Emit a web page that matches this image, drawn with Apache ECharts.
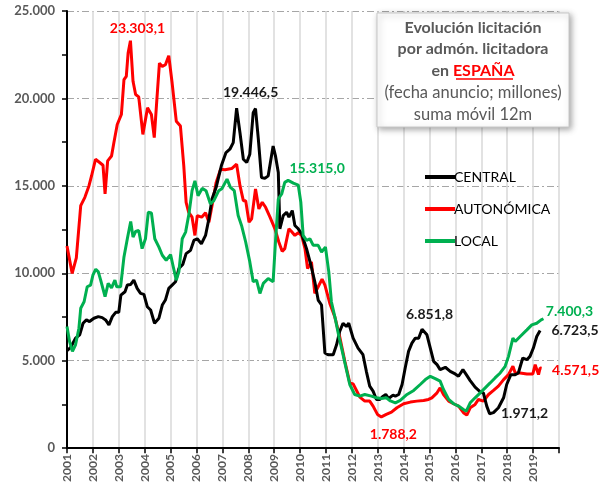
<!DOCTYPE html>
<html>
<head>
<meta charset="utf-8">
<script src="https://cdn.jsdelivr.net/npm/echarts@6/dist/echarts.min.js"></script>
<style>
  html, body { margin: 0; padding: 0; background: #fff; }
  #main { width: 604px; height: 485px; }
</style>
</head>
<body>
<div id="main"></div>
<script>
// años del eje
var years = [2001, 2002, 2003, 2004, 2005, 2006, 2007, 2008, 2009, 2010,
    2011, 2012, 2013, 2014, 2015, 2016, 2017, 2018, 2019];

// [fecha (año decimal), millones]
var central = [
    [2001.0, 5570], [2001.14, 5760], [2001.33, 6290], [2001.49, 6480], [2001.62, 7145], [2001.75, 7335],
    [2001.87, 7240], [2002.04, 7430], [2002.21, 7520], [2002.36, 7465], [2002.49, 7335], [2002.62, 7050],
    [2002.75, 7520], [2002.88, 7770], [2003.0, 7770], [2003.08, 8755], [2003.24, 8945], [2003.33, 9325],
    [2003.46, 9360], [2003.58, 9610], [2003.71, 9135], [2003.84, 8850], [2003.97, 8795], [2004.1, 8090],
    [2004.23, 7900], [2004.38, 7145], [2004.55, 7430], [2004.68, 8185], [2004.8, 8470], [2004.93, 9135],
    [2005.06, 9325], [2005.19, 9515], [2005.32, 10270], [2005.47, 10500], [2005.6, 11125], [2005.77, 11310],
    [2005.9, 11880], [2006.03, 11975], [2006.19, 11690], [2006.35, 12165], [2006.48, 13115], [2006.6, 14250],
    [2006.76, 14915], [2006.96, 16145], [2007.14, 16905], [2007.29, 17095], [2007.42, 17470], [2007.55, 19446.5],
    [2007.68, 18040], [2007.81, 16525], [2007.94, 16335], [2008.06, 16810], [2008.19, 19180], [2008.28, 19420],
    [2008.39, 17660], [2008.51, 15480], [2008.64, 15425], [2008.77, 15575], [2008.96, 17280], [2009.05, 16715],
    [2009.16, 15765], [2009.22, 12545], [2009.35, 13300], [2009.48, 13490], [2009.57, 13210], [2009.7, 13585],
    [2009.8, 12735], [2009.93, 12545], [2010.06, 12260], [2010.25, 11410], [2010.42, 10460], [2010.57, 9515],
    [2010.7, 8470], [2010.83, 8185], [2010.96, 5440], [2011.08, 5345], [2011.28, 5345], [2011.41, 5910],
    [2011.53, 6670], [2011.66, 7145], [2011.79, 6955], [2011.88, 7145], [2012.05, 6290], [2012.24, 5725],
    [2012.43, 5345], [2012.56, 4395], [2012.69, 3545], [2012.82, 3260], [2012.95, 2785], [2013.08, 2785],
    [2013.21, 2975], [2013.31, 3070], [2013.42, 2840], [2013.59, 3030], [2013.68, 2975], [2013.81, 3070],
    [2013.94, 3640], [2014.06, 4585], [2014.19, 5535], [2014.32, 6005], [2014.45, 6290], [2014.58, 6290],
    [2014.71, 6800], [2014.77, 6851.8], [2014.9, 6480], [2015.03, 5725], [2015.16, 4965], [2015.29, 4775],
    [2015.41, 4490], [2015.61, 4625], [2015.8, 4395], [2015.99, 4245], [2016.12, 4110], [2016.29, 4490],
    [2016.42, 4205], [2016.57, 3865], [2016.76, 3485], [2016.96, 3220], [2017.08, 3165], [2017.21, 2405],
    [2017.32, 1971.2], [2017.47, 2030], [2017.66, 2310], [2017.86, 2880], [2017.98, 3640], [2018.14, 4205],
    [2018.31, 4205], [2018.43, 4300], [2018.6, 5155], [2018.76, 5060], [2018.88, 5250], [2019.01, 5725],
    [2019.14, 6385], [2019.27, 6723.5]
];

var autonomica = [
    [2001.0, 11560], [2001.2, 9990], [2001.36, 10880], [2001.53, 13870], [2001.69, 14345], [2001.85, 15010],
    [2001.95, 15580], [2002.1, 16520], [2002.26, 16335], [2002.39, 16180], [2002.47, 14535], [2002.57, 16430],
    [2002.72, 16710], [2002.81, 17470], [2002.94, 18510], [2003.1, 19080], [2003.2, 21070], [2003.29, 21260],
    [2003.36, 22590], [2003.45, 23303.1], [2003.55, 20980], [2003.65, 20220], [2003.77, 20090], [2003.93, 17945],
    [2004.0, 17945], [2004.11, 19460], [2004.26, 19080], [2004.37, 17760], [2004.47, 19935], [2004.57, 22020],
    [2004.68, 21830], [2004.8, 21925], [2004.93, 22440], [2005.06, 20880], [2005.22, 18700], [2005.38, 18420],
    [2005.51, 16145], [2005.6, 14060], [2005.7, 13490], [2005.83, 13210], [2005.94, 12165], [2006.03, 13300],
    [2006.2, 13210], [2006.35, 13455], [2006.48, 12925], [2006.6, 13870], [2006.76, 15200], [2006.93, 15955],
    [2007.1, 15920], [2007.36, 15990], [2007.55, 16240], [2007.68, 15010], [2007.81, 14155], [2007.9, 14155],
    [2008.03, 12925], [2008.13, 13115], [2008.28, 14820], [2008.41, 13680], [2008.54, 14060], [2008.67, 13775],
    [2008.84, 13210], [2009.03, 12545], [2009.18, 11790], [2009.31, 11255], [2009.41, 11410], [2009.57, 12545],
    [2009.67, 12390], [2009.8, 12165], [2009.93, 12320], [2010.06, 12165], [2010.19, 11410], [2010.29, 10270],
    [2010.44, 10650], [2010.57, 8850], [2010.7, 9230], [2010.85, 9665], [2010.96, 9320], [2011.15, 8280],
    [2011.34, 7520], [2011.53, 6385], [2011.73, 4965], [2011.92, 3730], [2012.05, 3675], [2012.18, 3300],
    [2012.31, 2920], [2012.5, 2690], [2012.69, 2690], [2012.82, 2405], [2012.99, 1930], [2013.14, 1788.2],
    [2013.33, 1930], [2013.53, 2060], [2013.74, 2310], [2014.0, 2540], [2014.26, 2635], [2014.51, 2690],
    [2014.77, 2730], [2014.96, 2785], [2015.09, 2880], [2015.29, 3165], [2015.41, 3450], [2015.54, 3070],
    [2015.74, 2690], [2015.93, 2540], [2016.12, 2405], [2016.31, 2030], [2016.44, 1895], [2016.57, 2310],
    [2016.76, 2500], [2016.89, 2785], [2017.08, 2690], [2017.28, 3070], [2017.47, 3300], [2017.66, 3545],
    [2017.86, 3920], [2018.05, 4205], [2018.22, 4680], [2018.31, 4300], [2018.5, 4300], [2018.76, 4245],
    [2018.99, 4245], [2019.08, 4775], [2019.14, 4815], [2019.21, 4205], [2019.27, 4585], [2019.33, 4571.5]
];

var local = [
    [2001.0, 6955], [2001.1, 6100], [2001.21, 5535], [2001.33, 5910], [2001.46, 6860], [2001.53, 8000],
    [2001.66, 8375], [2001.78, 9230], [2001.91, 9325], [2002.0, 9890], [2002.11, 10235], [2002.21, 10080],
    [2002.3, 9610], [2002.36, 9550], [2002.47, 8660], [2002.59, 9420], [2002.72, 9170], [2002.85, 9610],
    [2002.92, 9230], [2003.07, 9230], [2003.2, 10935], [2003.33, 11975], [2003.46, 12960], [2003.55, 12070],
    [2003.65, 12390], [2003.77, 12450], [2003.9, 11410], [2004.03, 11975], [2004.14, 13490], [2004.26, 13455],
    [2004.39, 11975], [2004.55, 11500], [2004.68, 11030], [2004.83, 10745], [2005.0, 11065], [2005.09, 10460],
    [2005.22, 9610], [2005.32, 10080], [2005.45, 11975], [2005.58, 12355], [2005.71, 13400], [2005.83, 14725],
    [2005.94, 15290], [2006.06, 14440], [2006.22, 14855], [2006.37, 14725], [2006.54, 13965], [2006.67, 14155],
    [2006.86, 14725], [2006.99, 14855], [2007.18, 15385], [2007.31, 14915], [2007.46, 14725], [2007.61, 13300],
    [2007.74, 12735], [2007.9, 11790], [2008.06, 10650], [2008.19, 9515], [2008.32, 9610], [2008.45, 8850],
    [2008.58, 9420], [2008.77, 9700], [2008.96, 9515], [2009.05, 11790], [2009.16, 14250], [2009.29, 14535],
    [2009.41, 15200], [2009.54, 15315.0], [2009.74, 15160], [2009.93, 15045], [2010.03, 14060], [2010.12, 12165],
    [2010.25, 11880], [2010.38, 11975], [2010.51, 11600], [2010.7, 11600], [2010.83, 11220], [2010.98, 11500],
    [2011.11, 10080], [2011.21, 8375], [2011.37, 7335], [2011.5, 6385], [2011.66, 5345], [2011.79, 4490],
    [2011.92, 3640], [2012.11, 3070], [2012.31, 2975], [2012.5, 3070], [2012.76, 2975], [2012.95, 2880],
    [2013.14, 2840], [2013.33, 2880], [2013.49, 2700], [2013.68, 2595], [2013.87, 2730], [2014.13, 3070],
    [2014.39, 3300], [2014.64, 3640], [2014.84, 3920], [2015.03, 4110], [2015.22, 3980], [2015.41, 3830],
    [2015.54, 3355], [2015.74, 2785], [2015.93, 2540], [2016.12, 2405], [2016.31, 2215], [2016.42, 2120],
    [2016.57, 2595], [2016.76, 2880], [2016.96, 3165], [2017.15, 3450], [2017.34, 3730], [2017.53, 4015],
    [2017.73, 4300], [2017.92, 4680], [2018.05, 5250], [2018.22, 6290], [2018.31, 6100], [2018.5, 6385],
    [2018.76, 6765], [2018.95, 7050], [2019.14, 7145], [2019.31, 7335], [2019.4, 7400.3]
];

var colCentral = '#000000';
var colAuto = '#ff0000';
var colLocal = '#00b050';
var gris = '#595959';
var fuente = 'Lato, "Liberation Sans", sans-serif';

// formato español: 23.303,1
function fmtEs(v, dec) {
    var s = v.toFixed(dec);
    var p = s.split('.');
    var ent = p[0].replace(/\B(?=(\d{3})+(?!\d))/g, '.');
    return p.length > 1 ? ent + ',' + p[1] : ent;
}

// etiquetas de máximos / mínimos / últimos
function marca(serie, valor, dx, dy) {
    var punto = serie.filter(function(p) { return p[1] === valor; })[0];
    return {
        coord: punto,
        value: fmtEs(punto[1], 1),
        label: { offset: [dx, dy] }
    };
}

function markPts(items, color) {
    return {
        symbol: 'circle',
        symbolSize: 0,
        silent: true,
        label: {
            show: true,
            position: 'inside',
            color: color,
            fontFamily: fuente,
            fontWeight: 'bold',
            fontSize: 14,
            formatter: function(p) { return p.value; }
        },
        data: items
    };
}

var myChart = echarts.init(document.getElementById('main'), null, { renderer: 'canvas' });

var option = {
    animation: false,
    backgroundColor: '#ffffff',
    grid: { left: 67, right: 45, top: 11, bottom: 34, containLabel: false },
    legend: {
        orient: 'vertical',
        left: 420,
        top: 165,
        icon: 'rect',
        itemWidth: 30,
        itemHeight: 4,
        itemGap: 18,
        data: ['CENTRAL', 'AUTONÓMICA', 'LOCAL'],
        textStyle: { color: '#000', fontFamily: fuente, fontSize: 14, padding: [0, 0, 0, -6] }
    },
    xAxis: {
        type: 'value',
        min: 2001,
        max: 2020,
        interval: 1,
        axisLine: { onZero: false, lineStyle: { color: '#000', width: 2 } },
        axisTick: { show: true, length: 5, lineStyle: { color: '#000', width: 1.5 } },
        axisLabel: {
            rotate: 90,
            color: gris,
            fontFamily: fuente,
            fontWeight: 'bold',
            fontSize: 12,
            margin: 6,
            formatter: function(v) { return v < 2020 ? String(v) : ''; }
        },
        splitLine: { show: true, lineStyle: { color: '#d9d9d9', width: 1.5 } }
    },
    yAxis: [{
        type: 'value',
        min: 0,
        max: 25000,
        interval: 2500,
        axisLine: { show: true, lineStyle: { color: '#000', width: 2 } },
        axisTick: { show: true, length: 5, lineStyle: { color: '#000', width: 1.5 } },
        axisLabel: {
            color: gris,
            fontFamily: fuente,
            fontWeight: 'bold',
            fontSize: 13,
            margin: 12,
            formatter: function(v) { return v % 5000 === 0 ? fmtEs(v, 0) : ''; }
        },
        splitLine: { show: false }
    }, {
        // solo para las líneas de rejilla cada 5.000
        type: 'value',
        min: 0,
        max: 25000,
        interval: 5000,
        position: 'left',
        axisLine: { show: false },
        axisTick: { show: false },
        axisLabel: { show: false },
        splitLine: { show: true, lineStyle: { color: '#a6a6a6', width: 1.2, type: [7, 3, 2, 3] } }
    }],
    series: [{
        name: 'AUTONÓMICA',
        type: 'line',
        data: autonomica,
        showSymbol: false,
        lineStyle: { color: colAuto, width: 3 },
        itemStyle: { color: colAuto },
        z: 3,
        markPoint: markPts([
            marca(autonomica, 23303.1, 7, -12),
            marca(autonomica, 1788.2, 12, 18),
            marca(autonomica, 4571.5, 34, 2)
        ], colAuto)
    }, {
        name: 'CENTRAL',
        type: 'line',
        data: central,
        showSymbol: false,
        lineStyle: { color: colCentral, width: 3 },
        itemStyle: { color: colCentral },
        z: 4,
        markPoint: markPts([
            marca(central, 19446.5, 14, -16),
            marca(central, 6851.8, 6, -14),
            marca(central, 1971.2, 35, 0),
            marca(central, 6723.5, 35, 0)
        ], '#1a1a1a')
    }, {
        name: 'LOCAL',
        type: 'line',
        data: local,
        showSymbol: false,
        lineStyle: { color: colLocal, width: 3 },
        itemStyle: { color: colLocal },
        z: 5,
        markPoint: markPts([
            marca(local, 15315.0, 29, -12),
            marca(local, 7400.3, 26, -7)
        ], colLocal)
    }],
    graphic: [{
        type: 'rect',
        shape: { x: 377, y: 13, width: 192, height: 114 },
        style: {
            fill: '#ffffff',
            stroke: '#c8c8c8',
            lineWidth: 1,
            shadowBlur: 6,
            shadowColor: 'rgba(0,0,0,0.35)',
            shadowOffsetX: 2,
            shadowOffsetY: 2
        },
        z: 100
    }, {
        type: 'text',
        x: 473,
        y: 71,
        z: 101,
        style: {
            text: '{b|Evolución licitación}\n{b|por admón. licitadora}\n{b|en }{r|ESPAÑA}\n{n|(fecha anuncio; millones)}\n{n|suma móvil 12m}',
            align: 'center',
            verticalAlign: 'middle',
            fontFamily: fuente,
            rich: {
                b: { fontSize: 16, fontWeight: 'bold', fill: gris, lineHeight: 21.5, fontFamily: fuente },
                r: { fontSize: 16, fontWeight: 'bold', fill: '#ff0000', lineHeight: 21.5, fontFamily: fuente },
                n: { fontSize: 16.5, fontWeight: 'normal', fill: gris, lineHeight: 22, fontFamily: fuente }
            }
        }
    }, {
        type: 'line',
        z: 102,
        shape: { x1: 456, y1: 79, x2: 513, y2: 79 },
        style: { stroke: '#ff0000', lineWidth: 1.5 }
    }]
};

myChart.setOption(option);
</script>
</body>
</html>
